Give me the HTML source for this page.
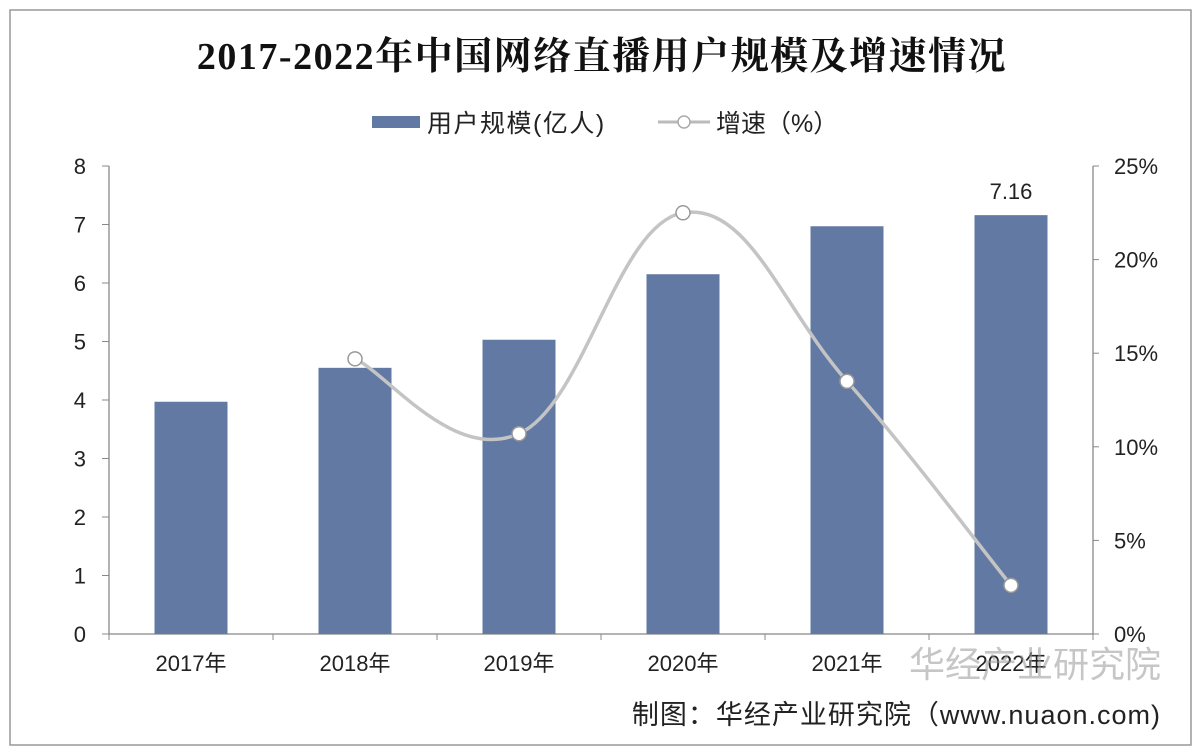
<!DOCTYPE html>
<html><head><meta charset="utf-8"><style>
body{margin:0;background:#fff;}
#wrap{position:relative;width:1204px;height:756px;overflow:hidden;background:#fff;}
svg text{font-family:"Liberation Sans","Noto Sans CJK SC",sans-serif;}
</style></head><body>
<div id="wrap">
<svg id="chart" width="1204" height="756">
<rect x="10" y="10" width="1181" height="735" fill="none" stroke="#999" stroke-width="1.5"/>
<text x="602" y="69" text-anchor="middle" font-size="38" font-weight="bold" letter-spacing="1.5" style='font-family:"Liberation Serif","Noto Serif CJK SC",serif' fill="#111">2017-2022年中国网络直播用户规模及增速情况</text>
<g>
<rect x="372" y="116" width="48" height="12" fill="#6179a3"/>
<text x="427" y="132" font-size="25" letter-spacing="1.5" fill="#222">用户规模(亿人)</text>
<line x1="658" y1="122" x2="710" y2="122" stroke="#bbb" stroke-width="3"/>
<circle cx="684" cy="122" r="6" fill="#fff" stroke="#aaa" stroke-width="1.5"/>
<text x="716" y="132" font-size="25" fill="#222">增速（%）</text>
</g>
<g id="axes"></g><g id="bars"></g><g id="line"></g>
<text x="1161" y="677" text-anchor="end" font-size="36" fill="#999" opacity="0.55">华经产业研究院</text>
<text x="1161" y="724" text-anchor="end" font-size="27" letter-spacing="1" fill="#222">制图：华经产业研究院（www.nuaon.com)</text>
</svg>
</div>
<script>
const categories=["2017年","2018年","2019年","2020年","2021年","2022年"];
const users=[3.97,4.55,5.03,6.15,6.97,7.16];
const growth=[null,14.7,10.7,22.5,13.5,2.6];
const leftTicks=[0,1,2,3,4,5,6,7,8];
const rightTicks=[0,5,10,15,20,25];
const NS="http://www.w3.org/2000/svg";
const X0=109,X1=1093,Y0=634,Y1=166;
const bw=(X1-X0)/categories.length;
const yL=v=>Y0-(v/8)*(Y0-Y1);
const yR=v=>Y0-(v/25)*(Y0-Y1);
const xC=i=>X0+bw*(i+0.5);
function mk(tag,attrs,parent,txt){const e=document.createElementNS(NS,tag);for(const k in attrs)e.setAttribute(k,attrs[k]);if(txt!=null)e.textContent=txt;document.getElementById(parent).appendChild(e);return e;}
let e;
e=mk('line',{x1:X0,y1:Y1,x2:X0,y2:Y0,stroke:'#888','stroke-width':1.3},'axes');


e=mk('line',{x1:X1,y1:Y1,x2:X1,y2:Y0,stroke:'#888','stroke-width':1.3},'axes');


e=mk('line',{x1:X0,y1:Y0,x2:X1,y2:Y0,stroke:'#888','stroke-width':1.3},'axes');


leftTicks.forEach(v=>{
 e=mk('line',{x1:X0-7,y1:yL(v),x2:X0,y2:yL(v),stroke:'#888'},'axes');
 
 
 e=mk('text',{x:86,y:yL(v)+8,'text-anchor':'end','font-size':22,fill:'#222'},'axes',v);
 
 
});
rightTicks.forEach(v=>{
 e=mk('line',{x1:X1,y1:yR(v),x2:X1+6,y2:yR(v),stroke:'#888'},'axes');
 
 
 e=mk('text',{x:1114,y:yR(v)+8,'font-size':22,fill:'#222'},'axes',v+'%');
 
 
});
for(let i=0;i<=categories.length;i++){
 e=mk('line',{x1:X0+bw*i,y1:Y0,x2:X0+bw*i,y2:Y0+6,stroke:'#888'},'axes');
 
 
}
categories.forEach((c,i)=>{
 e=mk('text',{x:xC(i),y:671,'text-anchor':'middle','font-size':22,fill:'#222'},'axes',c);
 
 
});
users.forEach((v,i)=>{
 e=mk('rect',{x:xC(i)-36.5,y:yL(v),width:73,height:Y0-yL(v),fill:'#6179a3'},'bars');
 
 
});
const li=users.length-1;
e=mk('text',{x:xC(li),y:yL(users[li])-16,'text-anchor':'middle','font-size':22,fill:'#222'},'bars',users[li].toFixed(2));


const pts=[];growth.forEach((g,i)=>{if(g!=null)pts.push([xC(i),yR(g)]);});
let d='M'+pts[0][0]+','+pts[0][1];
for(let i=0;i<pts.length-1;i++){
 const p0=pts[i-1]||pts[i],p1=pts[i],p2=pts[i+1],p3=pts[i+2]||p2,t=0.3;
 const c1=[p1[0]+(p2[0]-p0[0])*t/1.5,p1[1]+(p2[1]-p0[1])*t/1.5];
 const c2=[p2[0]-(p3[0]-p1[0])*t/1.5,p2[1]-(p3[1]-p1[1])*t/1.5];
 d+=` C${c1[0]},${c1[1]} ${c2[0]},${c2[1]} ${p2[0]},${p2[1]}`;
}
e=mk('path',{d:d,fill:'none',stroke:'#c4c4c4','stroke-width':3.5},'line');


pts.forEach(p=>{
 e=mk('circle',{cx:p[0],cy:p[1],r:7,fill:'#fff',stroke:'#999','stroke-width':1.5},'line');
 
 
});
</script>
</body></html>
